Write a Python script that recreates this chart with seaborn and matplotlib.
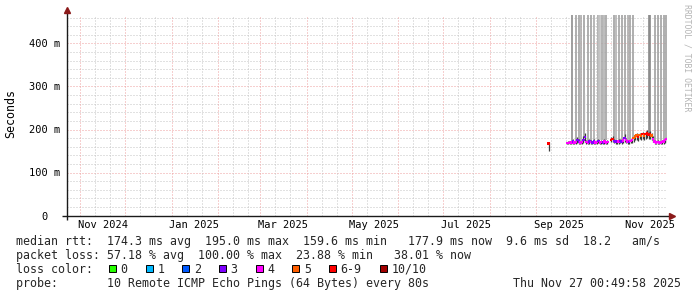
import matplotlib
matplotlib.use("Agg")
import matplotlib.pyplot as plt
from matplotlib.patches import Rectangle
from matplotlib.colors import LinearSegmentedColormap
import numpy as np
import pandas as pd
import seaborn as sns

# ------------------------------------------------------------------ data
END = pd.Timestamp("2025-11-27 00:49:58")
START = END - pd.Timedelta(days=400)

# isolated sample
iso_time = ["2025-09-09 08:00"]
iso_median = [168]
iso_loss = [6]
iso_lo = [150]
iso_hi = [172]

# segment 1: Sep 21 - Oct 18 (daily)
seg1_time = pd.date_range("2025-09-21 12:00", "2025-10-18 12:00", freq="D")
median1 = [169, 169, 170, 170, 172, 170, 171, 175, 172, 170, 171, 176, 182, 171,
           170, 172, 171, 170, 172, 170, 171, 173, 170, 171, 170, 172, 170, 171]
loss1 = [4, 4, 4, 4, 3, 4, 4, 3, 3, 4, 4, 3, 3, 4, 4, 3, 4, 3, 3, 4, 4, 3, 4, 4, 3, 4, 4, 4]
hi1 = [172, 173, 173, 174, 178, 174, 175, 183, 177, 174, 175, 186, 192, 175,
       174, 177, 175, 174, 178, 174, 175, 179, 174, 175, 174, 177, 174, 175]
lo1 = [166, 166, 167, 167, 167, 166, 167, 168, 167, 166, 167, 168, 170, 167,
       166, 167, 167, 166, 167, 166, 167, 168, 166, 167, 166, 167, 166, 167]

# segment 2: Oct 21 - Nov 27 (daily)
seg2_time = pd.date_range("2025-10-21 00:00", "2025-11-27 00:00", freq="D")
median2 = [176, 178, 173, 172, 171, 172, 173, 172, 174, 180, 176, 172, 171, 173,
           176, 180, 184, 186, 183, 187, 185, 189, 186, 190, 192, 188, 190, 186,
           178, 172, 170, 171, 170, 170, 171, 172, 175, 178]
loss2 = [6, 6, 3, 3, 3, 4, 3, 3, 4, 3, 4, 4, 3, 4, 4, 5, 5, 5, 6, 5, 5, 6, 5, 6,
         6, 6, 6, 5, 4, 4, 4, 4, 4, 4, 4, 4, 4, 4]
hi2 = [182, 184, 177, 176, 175, 177, 178, 177, 180, 189, 181, 176, 175, 178,
       181, 186, 190, 191, 189, 193, 191, 195, 192, 196, 198, 194, 196, 192,
       184, 176, 174, 175, 174, 174, 175, 176, 179, 182]
lo2 = [170, 171, 168, 167, 166, 167, 168, 167, 168, 171, 169, 167, 166, 168,
       169, 172, 175, 176, 174, 177, 175, 178, 176, 179, 180, 177, 179, 176,
       170, 167, 166, 166, 166, 166, 166, 167, 169, 171]

# full-height smoke (timeouts) and their density
storm_time = ["2025-09-24 19:00", "2025-09-27 12:00", "2025-09-29 08:00", "2025-10-01 00:00",
              "2025-10-03 00:00", "2025-10-05 08:00", "2025-10-07 16:00", "2025-10-09 12:00",
              "2025-10-12 00:00", "2025-10-13 00:00", "2025-10-13 16:00", "2025-10-15 00:00",
              "2025-10-16 08:00", "2025-10-17 08:00", "2025-10-23 00:00", "2025-10-24 08:00",
              "2025-10-26 08:00", "2025-10-28 08:00", "2025-10-30 08:00", "2025-11-01 02:00",
              "2025-11-02 12:00", "2025-11-04 08:00", "2025-11-15 12:00", "2025-11-16 04:00",
              "2025-11-19 04:00", "2025-11-21 04:00", "2025-11-23 02:00", "2025-11-25 04:00",
              "2025-11-26 20:00"]
storm_lo = [172, 174, 175, 173, 182, 173, 174, 175, 175, 176, 175, 175, 176, 175,
            176, 175, 176, 176, 180, 176, 174, 178, 190, 188, 175, 174, 174, 175, 180]
storm_density = [0.8, 0.6, 0.6, 0.5, 0.6, 0.6, 0.6, 0.5, 0.55, 0.25, 0.25, 0.55, 0.45,
                 0.6, 0.6, 0.45, 0.6, 0.6, 0.6, 0.5, 0.6, 0.6, 0.85, 0.85, 0.6, 0.6, 0.6,
                 0.6, 0.6]
STORM_TOP = 500

# partial light smoke
part_time = ["2025-10-03 00:00"]
part_lo = [212]
part_hi = [286]

loss_labels = ["0", "1", "2", "3", "4", "5", "6-9", "10/10"]
loss_colors = ["#26ff00", "#00b8ff", "#0059ff", "#7e00ff", "#ff00ff", "#ff5e00", "#ff0000", "#a10000"]

month_labels = ["Nov 2024", "Jan 2025", "Mar 2025", "May 2025", "Jul 2025", "Sep 2025", "Nov 2025"]
month_label_starts = ["2024-11-01", "2025-01-01", "2025-03-01", "2025-05-01",
                      "2025-07-01", "2025-09-01", "2025-11-01"]
ytick_vals = [0, 0.1, 0.2, 0.3, 0.4]
ytick_labels = ["0  ", "100 m", "200 m", "300 m", "400 m"]

row1 = "median rtt:  174.3 ms avg  195.0 ms max  159.6 ms min   177.9 ms now  9.6 ms sd  18.2   am/s"
row2 = "packet loss: 57.18 % avg  100.00 % max  23.88 % min   38.01 % now"
row3 = "loss color:"
row4 = "probe:       10 Remote ICMP Echo Pings (64 Bytes) every 80s"
stamp = "Thu Nov 27 00:49:58 2025"

# ------------------------------------------------------------------ frame
times = pd.to_datetime(list(iso_time) + list(seg1_time) + list(seg2_time))
df = pd.DataFrame({
    "time": times,
    "median": np.array(iso_median + median1 + median2) / 1000.0,
    "loss": [loss_labels[i] for i in iso_loss + loss1 + loss2],
    "lo": np.array(iso_lo + lo1 + lo2) / 1000.0,
    "hi": np.array(iso_hi + hi1 + hi2) / 1000.0,
})

sns.set_theme(style="white")
MONO = "DejaVu Sans Mono"
plt.rcParams["font.family"] = [MONO, "DejaVu Sans"]

W, H = 697, 297
fig = plt.figure(figsize=(W / 100, H / 100), dpi=100)
fig.patch.set_facecolor("white")
ax_l, ax_r, ax_t, ax_b = 66.7, 666.7, 14.5, 215.5
ax = fig.add_axes([ax_l / W, 1 - ax_b / H, (ax_r - ax_l) / W, (ax_b - ax_t) / H])
ax.set_facecolor("white")

YMAX = (ax_b - ax_t) / 430.0
ax.set_xlim(START, END)
ax.set_ylim(0, YMAX)

# grid
dot = (0, (1, 2))
minor_c, major_c = "#c4c4c4", "#eea0a0"
for v in np.arange(0.02, YMAX, 0.02):
    is_major = abs(v * 10 - round(v * 10)) < 1e-6
    ax.axhline(v, color=major_c if is_major else minor_c, lw=0.72, ls=dot, zorder=0)
for m in pd.date_range("2024-10-01", "2025-11-01", freq="MS"):
    if START < m < END:
        ax.axvline(m, color=major_c, lw=0.72, ls=dot, zorder=0.5)
    for d in (10, 20):
        t = m + pd.Timedelta(days=d)
        if START < t < END:
            ax.axvline(t, color=minor_c, lw=0.72, ls=dot, zorder=0)

# full height smoke
gray_map = LinearSegmentedColormap.from_list("smoke", ["#dcdcdc", "#7a7a7a"])
ax.vlines(pd.to_datetime(storm_time), np.array(storm_lo) / 1000.0, STORM_TOP / 1000.0,
          colors=[gray_map(d) for d in storm_density], lw=1.2, zorder=2)
ax.vlines(pd.to_datetime(part_time), np.array(part_lo) / 1000.0, np.array(part_hi) / 1000.0,
          colors="#b5b5b5", lw=0.9, zorder=2.1)

# smoke around the median
ax.vlines(df["time"], df["lo"], df["hi"], colors="#3c3c3c", lw=0.9, zorder=3)

# median coloured by loss
sns.scatterplot(data=df, x="time", y="median", hue="loss", hue_order=loss_labels,
                palette=dict(zip(loss_labels, loss_colors)), marker="s", s=3.2,
                linewidth=0, legend=False, ax=ax, zorder=5)

ax.set_xlabel("")
ax.set_ylabel("")
for s in ax.spines.values():
    s.set_visible(False)

# ticks
label_pos = [pd.Timestamp(s) + pd.Timedelta(days=15) for s in month_label_starts]
ax.set_xticks(label_pos)
ax.set_xticklabels(month_labels, fontsize=7.45, family=MONO, color="#000000")
ax.set_yticks(ytick_vals)
ax.set_yticklabels(ytick_labels, fontsize=7.45, family=MONO, color="#000000")
ax.tick_params(axis="x", length=0, pad=3.2)
ax.tick_params(axis="y", length=0, pad=4.6)
ax.grid(False)

# axis lines and arrows
wx = ax_r - ax_l
hy = ax_b - ax_t
ax.plot([-4.5 / wx, 1 + 3 / wx], [0, 0], transform=ax.transAxes, color="#1a1a1a",
        lw=1.0, clip_on=False, zorder=6, solid_capstyle="butt")
ax.plot([0, 0], [-4.5 / hy, 1 + 2 / hy], transform=ax.transAxes, color="#1a1a1a",
        lw=1.0, clip_on=False, zorder=6, solid_capstyle="butt")
ax.plot([1 + 5 / wx], [0], marker=">", ms=4.2, color="#8b1a1a", mec="#8b1a1a",
        transform=ax.transAxes, clip_on=False, zorder=7)
ax.plot([0], [1 + 4.5 / hy], marker="^", ms=4.2, color="#8b1a1a", mec="#8b1a1a",
        transform=ax.transAxes, clip_on=False, zorder=7)

# y label and watermark
fig.text(11 / W, 1 - 113.5 / H, "Seconds", rotation=90, ha="center", va="center",
         fontsize=8.4, family=MONO, color="#000000")
fig.text(687 / W, 1 - 4 / H, "RRDTOOL / TOBI OETIKER", rotation=270, ha="center",
         va="top", fontsize=5.9, family=MONO, color="#b4b4b4")

# legend rows
FS = 8.4
base = [244.5, 258.7, 272.9, 287.1]
fig.text(16 / W, 1 - base[0] / H, row1, ha="left", va="baseline", fontsize=FS, family=MONO)
fig.text(16 / W, 1 - base[1] / H, row2, ha="left", va="baseline", fontsize=FS, family=MONO)
fig.text(16 / W, 1 - base[2] / H, row3, ha="left", va="baseline", fontsize=FS, family=MONO)
fig.text(16 / W, 1 - base[3] / H, row4, ha="left", va="baseline", fontsize=FS, family=MONO)
fig.text(681 / W, 1 - base[3] / H, stamp, ha="right", va="baseline", fontsize=FS, family=MONO)

bx = 109.0
for lab, col in zip(loss_labels, loss_colors):
    fig.add_artist(Rectangle((bx / W, 1 - 272 / H), 7 / W, 7 / H, transform=fig.transFigure,
                             facecolor=col, edgecolor="#000000", lw=0.7))
    fig.text((bx + 11.5) / W, 1 - base[2] / H, lab, ha="left", va="baseline",
             fontsize=FS, family=MONO)
    bx += 12 + 7 * len(lab) + 17.7

fig.savefig("out.png", dpi=100, facecolor="white")
